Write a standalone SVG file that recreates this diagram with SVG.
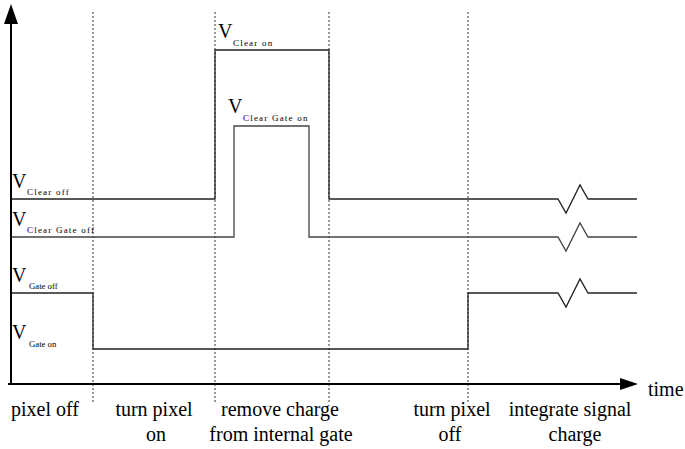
<svg xmlns="http://www.w3.org/2000/svg" width="685" height="449" viewBox="0 0 685 449">
<style>
.axis{stroke:#000;stroke-width:2;fill:none}
.dash{stroke:#333;stroke-width:1;stroke-dasharray:2,2;fill:none}
.sig{stroke:#222;stroke-width:1.3;fill:none}
.sig2{stroke:#444;stroke-width:1.3;fill:none}
.v{font-family:"Liberation Serif","Times New Roman",serif;font-size:20px;fill:#000}
.sub{font-family:"Liberation Serif","Times New Roman",serif;font-size:9px;letter-spacing:1.2px;fill:#000}
.subg{font-family:"Liberation Serif","Times New Roman",serif;font-size:8.7px;fill:#000}
.lbl{font-family:"Liberation Serif","Times New Roman",serif;font-size:20px;fill:#000;text-anchor:middle}
</style>
<rect width="685" height="449" fill="#fff"/>
<g id="connectors">
<line class="dash" x1="93" y1="12" x2="93" y2="404"/>
<line class="dash" x1="215" y1="12" x2="215" y2="404"/>
<line class="dash" x1="329" y1="12" x2="329" y2="404"/>
<line class="dash" x1="468" y1="12" x2="468" y2="404"/>
<polyline class="sig" points="11,199 215,199 215,50 329,50 329,199 558,199 566,213 580,185 588,199 637,199"/>
<polyline class="sig2" points="11,237 234,237 234,126 309,126 309,237 558,237 566,251 580,223 588,237 637,237"/>
<polyline class="sig" points="11,293 93,293 93,349 468,349 468,293 558,293 566,307 580,279 588,293 637,293"/>
</g>
<g id="axes">
<line class="axis" x1="11" y1="385" x2="11" y2="20"/>
<polygon points="11,4 4,24 18,24" fill="#000"/>
<line class="axis" x1="8" y1="384" x2="622" y2="384"/>
<polygon points="638,384 620,378 620,390" fill="#000"/>
<text class="lbl" x="648" y="396" style="text-anchor:start">time</text>
</g>
<g id="level-labels">
<text class="v" x="12" y="188">V</text><text class="sub" x="27" y="195">Clear off</text>
<text class="v" x="12" y="226">V</text><text class="sub" x="27" y="233">Clear Gate off</text>
<text class="v" x="12" y="282">V</text><text class="subg" x="29" y="289">Gate off</text>
<text class="v" x="12" y="339">V</text><text class="subg" x="29" y="347">Gate on</text>
<text class="v" x="218" y="38">V</text><text class="sub" x="233" y="46">Clear on</text>
<text class="v" x="228" y="113">V</text><text class="sub" x="243" y="121">Clear Gate on</text>
</g>
<g id="phase-labels">
<text class="lbl" x="45" y="416">pixel off</text>
<text class="lbl" x="154" y="416">turn pixel</text>
<text class="lbl" x="156" y="441">on</text>
<text class="lbl" x="280" y="416">remove charge</text>
<text class="lbl" x="281" y="441">from internal gate</text>
<text class="lbl" x="452" y="416">turn pixel</text>
<text class="lbl" x="450" y="441">off</text>
<text class="lbl" x="570" y="416">integrate signal</text>
<text class="lbl" x="575" y="441">charge</text>
</g>
</svg>
